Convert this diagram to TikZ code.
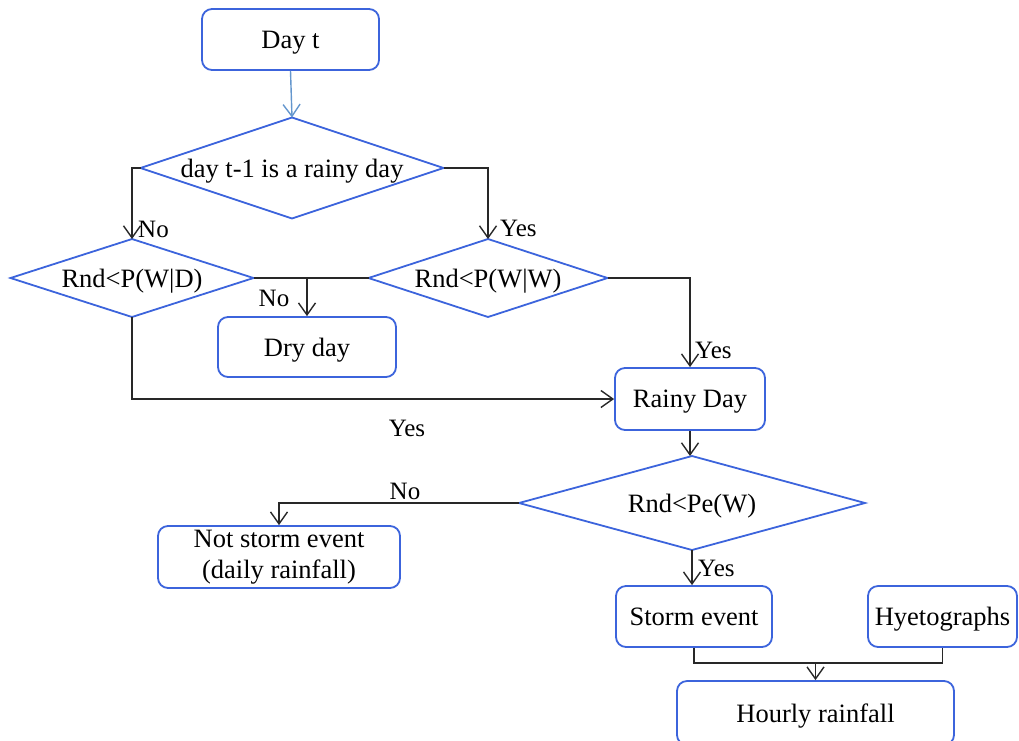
\documentclass[tikz,border=0pt]{standalone}
\usepackage{fontspec}
\setmainfont{Liberation Serif}
\usetikzlibrary{arrows.meta}
\definecolor{boxblue}{RGB}{60,100,220}
\definecolor{lightarrow}{RGB}{100,150,205}
\definecolor{connc}{RGB}{40,40,40}
\begin{document}
\begin{tikzpicture}[x=1pt,y=-1pt,
  txt/.style={font=\fontsize{26.5}{31}\selectfont},
  one/.style={text depth=0pt},
  box/.style={txt, draw=boxblue, line width=1.8pt, rounded corners=10pt, inner sep=0pt, align=center},
  dia/.style={txt, one, inner sep=0pt, outer sep=0pt},
  diaedge/.style={draw=boxblue, line width=1.8pt, line join=miter},
  line/.style={draw=connc, line width=1.4pt},
  tip/.style={-{Straight Barb[length=12pt,width=17pt,line width=1.4pt]}},
  conn/.style={line, tip},
  lab/.style={font=\fontsize{25}{30}\selectfont, inner sep=0pt}
]
\useasboundingbox (0,0) rectangle (1019,740);

% nodes
\node[box, one, minimum width=177pt, minimum height=61pt] (day) at (290.5,39.5) {Day t};
\node[dia, minimum width=303pt, minimum height=101pt] (d1) at (292,168) {day t-1 is a rainy day};
\node[dia, minimum width=243pt, minimum height=78pt] (d2) at (132,278) {Rnd<P(W|D)};
\node[dia, minimum width=239pt, minimum height=78pt] (d3) at (488,278) {Rnd<P(W|W)};
\node[box, one, minimum width=178pt, minimum height=60pt] (dry) at (307,347) {Dry day};
\node[box, one, minimum width=150pt, minimum height=62pt] (rainy) at (690,399) {Rainy Day};
\node[dia, minimum width=346pt, minimum height=94pt] (d4) at (692,503) {Rnd<Pe(W)};
\node[box, minimum width=242pt, minimum height=62pt] (notstorm) at (279,557) {Not storm event\\(daily rainfall)};
\node[box, one, minimum width=156pt, minimum height=61pt] (storm) at (694,616.5) {Storm event};
\node[box, one, minimum width=149pt, minimum height=61pt] (hyet) at (942.5,616.5) {Hyetographs};
\node[box, one, minimum width=277pt, minimum height=64pt] (hourly) at (815.5,713) {Hourly rainfall};
\coordinate (j) at (815.5,663);

% diamond outlines
\foreach \d in {d1,d2,d3,d4}
  \draw[diaedge] (\d.west) -- (\d.north) -- (\d.east) -- (\d.south) -- cycle;

% connectors
\draw[line, draw=lightarrow, tip] (day.south) -- (d1.north);
\draw[conn] (d1.west) -| (d2.north);
\draw[conn] (d1.east) -| (d3.north);
\draw[line] (d2.east) -- (d3.west);
\draw[conn] (dry.north |- d2.east) -- (dry.north);
\draw[conn] (d3.east) -| (rainy.north);
\draw[conn] (d2.south) |- (rainy.west);
\draw[conn] (rainy.south) -- (rainy.south |- d4.north);
\draw[conn] (d4.west) -| (notstorm.north);
\draw[conn] (d4.south) -- (d4.south |- storm.north);
\draw[line] (storm.south) -- (storm.south |- j) -- (hyet.south |- j) -- (hyet.south);
\draw[conn] (j) -- (hourly.north);

% labels
\node[lab, anchor=west] at (138,229) {No};
\node[lab, anchor=west] at (500,228) {Yes};
\node[lab] at (274,298) {No};
\node[lab, anchor=west] at (695,350) {Yes};
\node[lab] at (407,428) {Yes};
\node[lab] at (405,491) {No};
\node[lab, anchor=west] at (698,568) {Yes};
\end{tikzpicture}
\end{document}
